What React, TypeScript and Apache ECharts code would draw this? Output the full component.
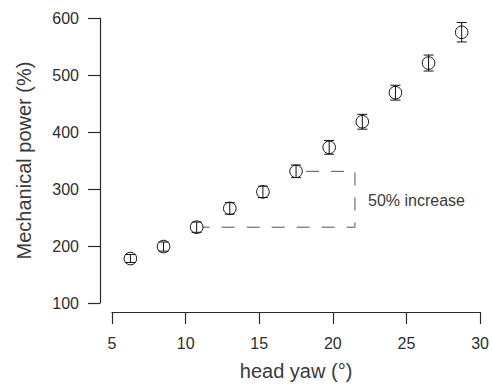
import React, { useEffect, useRef } from "react";
import * as echarts from "echarts";

const headYaw = [6.25, 8.5, 10.75, 13.0, 15.25, 17.5, 19.75, 22.0, 24.25, 26.5, 28.75];
const power = [178, 199, 233, 266, 295, 331, 373, 418, 469, 521, 575];
const powerErr = [7, 8, 9, 10, 10, 11, 12, 13, 13, 14, 17];
const xRange = [5, 30];
const xStep = 5;
const yRange = [100, 600];
const yStep = 100;
const bracketX = [10.75, 21.5, 21.5, 17.5];
const bracketY = [233, 233, 331, 331];
const annotation = "50% increase";
const xTitle = "head yaw (°)";
const yTitle = "Mechanical power (%)";

const FONT = "'Liberation Sans', Arial, Helvetica, sans-serif";
const TEXT = "#3a3a3a";
const LINE = "#2b2b2b";

export default function App() {
  const ref = useRef<HTMLDivElement>(null);
  useEffect(() => {
    if (!ref.current) return;
    const chart = echarts.init(ref.current, undefined, { renderer: "svg" });
    const points = headYaw.map((x, i) => [x, power[i], powerErr[i]]);
    const bracket = bracketX.map((x, i) => [x, bracketY[i]]);
    chart.setOption({
      animation: false,
      backgroundColor: "#ffffff",
      grid: { left: 112, right: 10, top: 18, bottom: 81, containLabel: false },
      xAxis: {
        type: "value",
        min: xRange[0],
        max: xRange[1],
        interval: xStep,
        offset: 9,
        name: xTitle,
        nameLocation: "middle",
        nameGap: 49,
        nameTextStyle: { fontFamily: FONT, fontSize: 20, color: TEXT },
        axisLine: { show: true, lineStyle: { color: LINE, width: 1.2 } },
        axisTick: { show: true, length: 12, lineStyle: { color: LINE, width: 1.2 } },
        axisLabel: { margin: 23, fontFamily: FONT, fontSize: 16, color: "#2e2e2e" },
        splitLine: { show: false },
      },
      yAxis: {
        type: "value",
        min: yRange[0],
        max: yRange[1],
        interval: yStep,
        offset: 12,
        name: yTitle,
        nameLocation: "middle",
        nameGap: 66,
        nameTextStyle: { fontFamily: FONT, fontSize: 20, color: TEXT },
        axisLine: { show: true, lineStyle: { color: LINE, width: 1.2 } },
        axisTick: { show: true, length: 12, lineStyle: { color: LINE, width: 1.2 } },
        axisLabel: { margin: 21, fontFamily: FONT, fontSize: 16, color: "#2e2e2e" },
        splitLine: { show: false },
      },
      series: [
        {
          type: "line",
          data: bracket,
          symbol: "none",
          z: 1,
          lineStyle: { color: "#555555", width: 1, type: [13, 12] },
        },
        {
          type: "custom",
          z: 5,
          data: points,
          renderItem: (params: any, api: any) => {
            const x = api.value(0);
            const y = api.value(1);
            const e = api.value(2);
            const c = api.coord([x, y]);
            const lo = api.coord([x, y - e]);
            const hi = api.coord([x, y + e]);
            const cap = 5;
            const st = { stroke: "#111111", lineWidth: 1, fill: null };
            return {
              type: "group",
              children: [
                { type: "circle", shape: { cx: c[0], cy: c[1], r: 6.3 }, style: { stroke: "#111111", lineWidth: 1, fill: "#ffffff" } },
                { type: "line", shape: { x1: c[0], y1: lo[1], x2: c[0], y2: hi[1] }, style: st },
                { type: "line", shape: { x1: c[0] - cap, y1: lo[1], x2: c[0] + cap, y2: lo[1] }, style: st },
                { type: "line", shape: { x1: c[0] - cap, y1: hi[1], x2: c[0] + cap, y2: hi[1] }, style: st },
              ],
            };
          },
        },
      ],
      graphic: [
        {
          type: "text",
          left: 368,
          top: 192,
          style: { text: annotation, fontFamily: FONT, fontSize: 16, fill: TEXT },
        },
      ],
    });
    return () => chart.dispose();
  }, []);
  return <div ref={ref} style={{ width: 492, height: 386, position: "absolute", left: 0, top: 0 }} />;
}
